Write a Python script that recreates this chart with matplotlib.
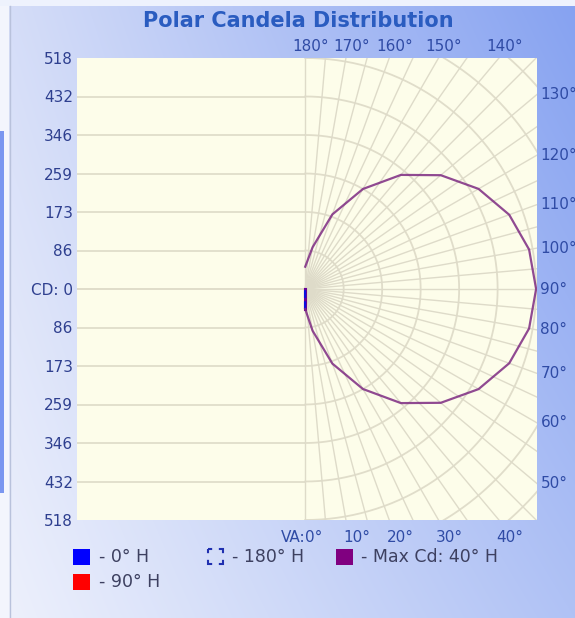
import numpy as np
import matplotlib
matplotlib.use("Agg")
import matplotlib.pyplot as plt
from matplotlib.patches import Rectangle

# vertical angles (0 = nadir) and candela values
angles = [0, 10, 20, 30, 40, 50, 60, 70, 80, 90, 100, 110, 120, 130, 140, 150, 160, 170, 180]
cd_40h = [45, 95, 178, 259, 334, 397, 449, 487, 510, 518, 510, 487, 449, 397, 334, 259, 178, 95, 50]
cd_0h = [45, 0, 0, 0, 0, 0, 0, 0, 0, 0, 0, 0, 0, 0, 0, 0, 0, 0, 0]
cd_90h = [45, 0, 0, 0, 0, 0, 0, 0, 0, 0, 0, 0, 0, 0, 0, 0, 0, 0, 0]
cd_180h = [45, 0, 0, 0, 0, 0, 0, 0, 0, 0, 0, 0, 0, 0, 0, 0, 0, 0, 0]

cd_max = 518
y_labels = ["518", "432", "346", "259", "173", "86", "CD: 0", "86", "173", "259", "346", "432", "518"]
top_angles = [180, 170, 160, 150, 140]
right_angles = [130, 120, 110, 100, 90, 80, 70, 60, 50]
bottom_angles = [10, 20, 30, 40]

W, H = 575, 618
fig = plt.figure(figsize=(W / 100, H / 100), dpi=100)

# background panel
bg = fig.add_axes([0, 0, 1, 1], zorder=-10)
yy, xx = np.mgrid[0:1:H * 1j, 0:1:W * 1j]
tl = np.array(matplotlib.colors.to_rgb("#d6def8"))
tr = np.array(matplotlib.colors.to_rgb("#86a2f1"))
bl = np.array(matplotlib.colors.to_rgb("#eef1fc"))
br = np.array(matplotlib.colors.to_rgb("#b0c2f5"))
grad = (tl * ((1 - xx) * (1 - yy))[..., None] + tr * (xx * (1 - yy))[..., None]
        + bl * ((1 - xx) * yy)[..., None] + br * (xx * yy)[..., None])
bg.imshow(grad, extent=[0, W, H, 0], aspect="auto")
bg.set_xlim(0, W)
bg.set_ylim(H, 0)
bg.axis("off")
bg.add_patch(Rectangle((0, 0), 9, H, color="#f3f5fd", lw=0))
bg.add_patch(Rectangle((0, 0), W, 6, color="#eef2fd", lw=0))
bg.add_patch(Rectangle((0, 131), 4, 362, color="#7a96f0", lw=0))
bg.plot([9.5, 9.5], [6, H], color="#b9c2dc", lw=1)

bg.text(298, 21, "Polar Candela Distribution", ha="center", va="center",
        fontsize=15, fontweight="bold", color="#2a5cc0")

# plot area
ax = fig.add_axes([77 / W, 1 - 520 / H, 460 / W, 462 / H])
ax.set_facecolor("#fdfdea")
ax.set_xlim(-512, 520)
ax.set_ylim(-cd_max, cd_max)
for s in ax.spines.values():
    s.set_visible(False)

step = cd_max / 6
grid_kw = dict(color="#e0ddca", lw=1.3, zorder=1)
for k in range(0, 6):
    ax.plot([-520, 0], [k * step, k * step], **grid_kw)
    ax.plot([-520, 0], [-k * step, -k * step], **grid_kw)
t = np.radians(np.linspace(0, 180, 361))
for k in range(1, 9):
    ax.plot(k * step * np.sin(t), -k * step * np.cos(t), **grid_kw)
for a in range(0, 181, 5):
    ar = np.radians(a)
    ax.plot([0, 900 * np.sin(ar)], [0, -900 * np.cos(ar)], color="#dedbc9", lw=1.0, zorder=1)

ax.set_xticks([])
yt = [cd_max - i * step for i in range(13)]
ax.set_yticks(yt, y_labels)
ax.tick_params(axis="y", length=0, pad=3, labelsize=11, labelcolor="#2e3f8f")

def polar_xy(ang, vals, side=1):
    ar = np.radians(ang)
    v = np.array(vals)
    return side * v * np.sin(ar), -v * np.cos(ar)

x, y = polar_xy(angles, cd_90h)
ax.plot(x, y, color="red", lw=2.2, zorder=3)
x, y = polar_xy(angles, cd_180h, side=-1)
ax.plot(x, y, color="#1a2ab0", lw=1.5, ls="--", zorder=3)
x, y = polar_xy(angles, cd_0h)
ax.plot(x, y, color="blue", lw=2.2, alpha=0.6, zorder=4)
x, y = polar_xy(angles, cd_40h)
ax.plot(x, y, color="#7d2a82", lw=1.6, alpha=0.85, zorder=5)

# angle labels around the border
lab_kw = dict(fontsize=11, color="#2f4ba5", textcoords="offset points", annotation_clip=False)
for a in top_angles:
    xe = cd_max * np.tan(np.radians(180 - a))
    ax.annotate(f"{a}°", (xe, cd_max), xytext=(4, 3), ha="center", va="bottom", **lab_kw)
for a in right_angles:
    ye = -520 / np.tan(np.radians(a))
    ax.annotate(f"{a}°", (520, ye), xytext=(2.5, 0), ha="left", va="center", **lab_kw)
ax.annotate("0°", (0, -cd_max), xytext=(0, -7), ha="left", va="top", **lab_kw)
ax.annotate("VA:", (0, -cd_max), xytext=(0, -7), ha="right", va="top", **lab_kw)
for a in bottom_angles:
    xe = cd_max * np.tan(np.radians(a))
    ax.annotate(f"{a}°", (xe, -cd_max), xytext=(-2, -7), ha="left", va="top", **lab_kw)

# legend
leg_kw = dict(fontsize=12.5, color="#3d4060", va="center", ha="left")
bg.add_patch(Rectangle((73, 549), 17, 16, color="#0000ff", lw=0))
bg.text(99, 557, "- 0° H", **leg_kw)
bg.add_patch(Rectangle((73, 574), 17, 16, color="#ff0000", lw=0))
bg.text(99, 582, "- 90° H", **leg_kw)
bg.add_patch(Rectangle((208, 549), 15, 15, fill=False, edgecolor="#2030b0", lw=1.5,
                       linestyle=(2, (4, 3.2))))
bg.text(232, 557, "- 180° H", **leg_kw)
bg.add_patch(Rectangle((336, 549), 17, 16, color="#800080", lw=0))
bg.text(361, 557, "- Max Cd: 40° H", **leg_kw)

fig.savefig("out.png", dpi=100)
